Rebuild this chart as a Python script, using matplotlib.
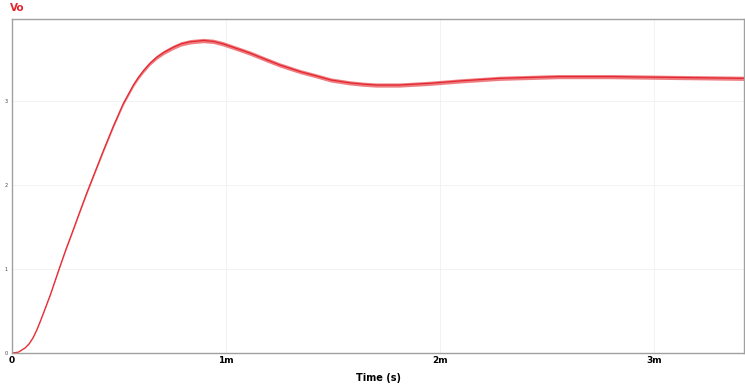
import matplotlib
matplotlib.use("Agg")
import matplotlib.pyplot as plt
import numpy as np

# waveform (time in ms, voltage in V)
t_ms = [0, 0.03, 0.061, 0.08, 0.098, 0.115, 0.131, 0.155, 0.18, 0.20, 0.22,
        0.25, 0.285, 0.315, 0.35, 0.39, 0.427, 0.475, 0.52, 0.567, 0.59,
        0.614, 0.645, 0.676, 0.71, 0.754, 0.79, 0.832, 0.894, 0.94, 0.987,
        1.05, 1.112, 1.18, 1.25, 1.346, 1.42, 1.49, 1.58, 1.64, 1.70, 1.81,
        1.95, 2.10, 2.28, 2.55, 2.80, 3.10, 3.42]
vo = [0, 0.01, 0.06, 0.11, 0.18, 0.27, 0.37, 0.53, 0.70, 0.85, 1.00,
      1.22, 1.46, 1.67, 1.91, 2.17, 2.41, 2.71, 2.97, 3.19, 3.28,
      3.36, 3.45, 3.52, 3.58, 3.64, 3.68, 3.705, 3.72, 3.71, 3.68,
      3.625, 3.57, 3.50, 3.43, 3.35, 3.30, 3.25, 3.215, 3.20, 3.19, 3.19,
      3.21, 3.24, 3.27, 3.29, 3.29, 3.28, 3.27]
# half-width of the switching ripple band (V)
ripple = [0, 0, 0.002, 0.003, 0.004, 0.005, 0.006, 0.007, 0.008, 0.009, 0.01,
          0.011, 0.012, 0.013, 0.015, 0.016, 0.018, 0.019, 0.02, 0.022, 0.023,
          0.024, 0.024, 0.025, 0.025, 0.026, 0.026, 0.026, 0.026, 0.026, 0.026,
          0.026, 0.026, 0.026, 0.026, 0.025, 0.025, 0.025, 0.025, 0.025, 0.025, 0.025,
          0.025, 0.025, 0.025, 0.025, 0.025, 0.025, 0.025]

x_ticks = [0, 1e-3, 2e-3, 3e-3]
x_labels = ["0", "1m", "2m", "3m"]
y_ticks = [0, 1, 2, 3]
y_labels = ["0", "1", "2", "3"]

red = "#e4262e"

t = np.array(t_ms) * 1e-3
v = np.array(vo)
r = np.array(ripple)

fig = plt.figure(figsize=(7.45, 3.88), dpi=100)
ax = fig.add_axes([12 / 745, 35 / 388, 732 / 745, 334 / 388])

ax.fill_between(t, v - r, v + r, color=red, alpha=0.6, lw=0)
ax.plot(t, v, color=red, lw=0.9, solid_joinstyle="round")

ax.set_xlim(0, 3.42e-3)
ax.set_ylim(0, 3.976)
ax.set_xticks(x_ticks)
ax.set_xticklabels(x_labels, fontsize=6.5, fontweight="bold")
ax.set_yticks(y_ticks)
ax.set_yticklabels(y_labels, fontsize=3.5, color="#444444")
ax.tick_params(length=0, pad=2)
ax.tick_params(axis="y", pad=3)
ax.grid(True, color="#f0f0f0", lw=0.6)
ax.set_axisbelow(True)
for s in ax.spines.values():
    s.set_color("#a0a0a0")
    s.set_linewidth(1)

ax.set_xlabel("Time (s)", fontsize=7, fontweight="bold", labelpad=6)
fig.text(10 / 745, 1 - 8 / 388, "Vo", color=red, fontsize=7.5,
         fontweight="bold", va="center", ha="left")

fig.savefig("out.png", dpi=100)
